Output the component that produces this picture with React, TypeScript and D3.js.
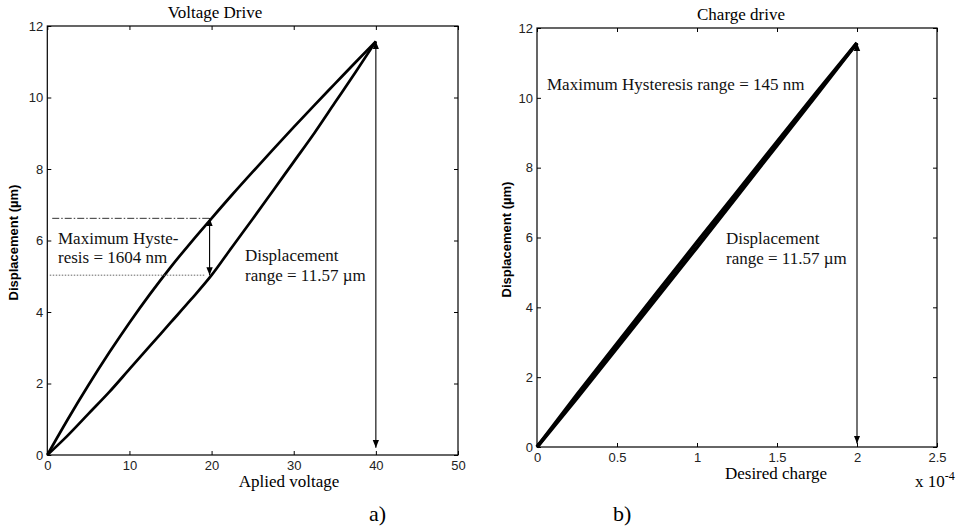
import { useEffect, useRef } from "react";
import * as d3 from "d3";

// voltage drive loop (V, um)
const voltage = [0, 2.5, 5, 7.5, 10, 12.5, 15, 17.5, 20, 22.5, 25, 27.5, 30, 32.5, 35, 37.5, 40];
const upperBranch = [0, 1.0, 1.95, 2.85, 3.7, 4.5, 5.25, 5.95, 6.62, 7.28, 7.92, 8.55, 9.17, 9.78, 10.38, 10.98, 11.57];
const lowerBranch = [0, 0.55, 1.15, 1.75, 2.4, 3.05, 3.7, 4.35, 5.03, 5.82, 6.6, 7.4, 8.2, 9.0, 9.85, 10.7, 11.57];

// charge drive loop (x 1e-4 C, um)
const charge = [0, 0.25, 0.5, 0.75, 1.0, 1.25, 1.5, 1.75, 2.0];
const chargeUp = [0, 1.4, 2.84, 4.28, 5.72, 7.18, 8.64, 10.1, 11.57];
const chargeDown = [0, 1.5, 2.96, 4.42, 5.865, 7.3, 8.74, 10.17, 11.57];

const voltageTicks = [0, 10, 20, 30, 40, 50];
const chargeTicks = [0, 0.5, 1, 1.5, 2, 2.5];
const dispTicks = [0, 2, 4, 6, 8, 10, 12];

const hystV = 20;
const hystTop = 6.62;
const hystBottom = 5.03;
const rangeMax = 11.57;

const W = 962;
const H = 531;
const serif = "'Liberation Serif', 'Times New Roman', serif";
const sans = "'Liberation Sans', Arial, sans-serif";

function drawPanel(svg, opt) {
    const { x, y, xTicks, xFormat, title, titleX, xLabel, xLabelX, xLabelDy, yLabelX } = opt;
    const g = svg.append("g");
    const [x0, x1] = x.range();
    const [y0, y1] = y.range();

    // inward ticks on all four sides
    const bottom = g.append("g").attr("transform", `translate(0,${y0})`)
        .call(d3.axisBottom(x).tickValues(xTicks).tickFormat(xFormat).tickSizeInner(-4).tickSizeOuter(0).tickPadding(6));
    g.append("g").attr("transform", `translate(0,${y1})`)
        .call(d3.axisTop(x).tickValues(xTicks).tickFormat(() => "").tickSizeInner(-4).tickSizeOuter(0));
    const left = g.append("g").attr("transform", `translate(${x0},0)`)
        .call(d3.axisLeft(y).tickValues(dispTicks).tickFormat(d3.format("d")).tickSizeInner(-4).tickSizeOuter(0).tickPadding(4));
    g.append("g").attr("transform", `translate(${x1},0)`)
        .call(d3.axisRight(y).tickValues(dispTicks).tickFormat(() => "").tickSizeInner(-4).tickSizeOuter(0));

    g.selectAll(".domain").remove();
    g.selectAll(".tick line").attr("stroke", "#000");
    [bottom, left].forEach(a => a.selectAll("text")
        .attr("font-family", sans).attr("font-size", 13).attr("fill", "#222"));

    g.append("rect")
        .attr("x", x0).attr("y", y1)
        .attr("width", x1 - x0).attr("height", y0 - y1)
        .attr("fill", "none").attr("stroke", "#000").attr("stroke-width", 1.2);

    g.append("text").attr("x", titleX).attr("y", y1 - 8)
        .attr("text-anchor", "middle").attr("font-family", serif).attr("font-size", 17)
        .text(title);
    g.append("text").attr("x", xLabelX).attr("y", y0 + xLabelDy)
        .attr("text-anchor", "middle").attr("font-family", serif).attr("font-size", 17)
        .text(xLabel);
    g.append("text")
        .attr("transform", `translate(${yLabelX},${(y0 + y1) / 2 + 2}) rotate(-90)`)
        .attr("text-anchor", "middle").attr("font-family", sans).attr("font-weight", "bold")
        .attr("font-size", 13)
        .text("Displacement (\u00b5m)");
    return g;
}

function arrow(g, x, ya, yb) {
    g.append("line")
        .attr("x1", x).attr("x2", x).attr("y1", ya).attr("y2", yb)
        .attr("stroke", "#000").attr("stroke-width", 1.1)
        .attr("marker-start", "url(#head)").attr("marker-end", "url(#head)");
}

function lines(g, texts, x, y, size) {
    texts.forEach((t, i) => {
        g.append("text").attr("x", x).attr("y", y + i * 19.5)
            .attr("font-family", serif).attr("font-size", size).attr("fill", "#111")
            .text(t);
    });
}

const App = () => {
    const ref = useRef(null);

    useEffect(() => {
        const svg = d3.select(ref.current);
        svg.selectAll("*").remove();

        svg.append("defs").append("marker")
            .attr("id", "head")
            .attr("viewBox", "0 0 10 10")
            .attr("refX", 10).attr("refY", 5)
            .attr("markerWidth", 8).attr("markerHeight", 8)
            .attr("markerUnits", "userSpaceOnUse")
            .attr("orient", "auto-start-reverse")
            .append("path").attr("d", "M0,1 L10,5 L0,9 Z").attr("fill", "#000");

        // ---- a) voltage drive
        const xa = d3.scaleLinear([0, 50], [47.3, 458]);
        const ya = d3.scaleLinear([0, 12], [455, 26]);
        const ga = drawPanel(svg, {
            x: xa, y: ya, xTicks: voltageTicks, xFormat: d3.format("d"),
            title: "Voltage Drive", titleX: 215, xLabel: "Aplied voltage", xLabelX: 289, xLabelDy: 31.5,
            yLabelX: 18
        });

        const lineA = d3.line().curve(d3.curveMonotoneX).x(d => xa(d[0])).y(d => ya(d[1]));
        [upperBranch, lowerBranch].forEach(b => {
            ga.append("path")
                .attr("d", lineA(voltage.map((v, i) => [v, b[i]])))
                .attr("fill", "none").attr("stroke", "#000").attr("stroke-width", 2.7)
                .attr("stroke-linejoin", "round");
        });

        ga.append("line")
            .attr("x1", xa(0.6)).attr("x2", xa(hystV) - 2)
            .attr("y1", ya(hystTop)).attr("y2", ya(hystTop))
            .attr("stroke", "#333").attr("stroke-width", 1).attr("stroke-dasharray", "7,2,1.5,2");
        ga.append("line")
            .attr("x1", xa(0.3)).attr("x2", xa(hystV) - 6)
            .attr("y1", ya(hystBottom)).attr("y2", ya(hystBottom))
            .attr("stroke", "#666").attr("stroke-width", 1).attr("stroke-dasharray", "1.5,1.5");
        arrow(ga, xa(hystV) - 2, ya(hystTop), ya(hystBottom));
        arrow(ga, xa(40), ya(rangeMax), ya(0.2));

        lines(ga, ["Maximum Hyste-", "resis = 1604 nm"], 58, 243.5, 17);
        lines(ga, ["Displacement", "range = 11.57 \u00b5m"], 245, 261, 17);

        // ---- b) charge drive
        const xb = d3.scaleLinear([0, 2.5], [537, 937]);
        const yb = d3.scaleLinear([0, 12], [447, 28]);
        const gb = drawPanel(svg, {
            x: xb, y: yb, xTicks: chargeTicks, xFormat: d => d3.format("")(d),
            title: "Charge drive", titleX: 741, xLabel: "Desired charge", xLabelX: 776, xLabelDy: 32,
            yLabelX: 511
        });

        const lineB = d3.line().x(d => xb(d[0])).y(d => yb(d[1]));
        [chargeUp, chargeDown].forEach(b => {
            gb.append("path")
                .attr("d", lineB(charge.map((q, i) => [q, b[i]])))
                .attr("fill", "none").attr("stroke", "#000").attr("stroke-width", 3.6)
                .attr("stroke-linejoin", "round");
        });
        arrow(gb, xb(2), yb(rangeMax), yb(0.1));

        lines(gb, ["Maximum Hysteresis range = 145 nm"], 547, 90, 17);
        lines(gb, ["Displacement", "range = 11.57 \u00b5m"], 726, 244, 17);

        const exp = gb.append("text").attr("x", 915).attr("y", 487)
            .attr("font-family", serif).attr("font-size", 17);
        exp.append("tspan").text("x 10");
        exp.append("tspan").attr("dy", -7).attr("font-size", 12).text("-4");

        svg.append("text").attr("x", 369).attr("y", 521).attr("font-family", serif)
            .attr("font-size", 22).text("a)");
        svg.append("text").attr("x", 613).attr("y", 521).attr("font-family", serif)
            .attr("font-size", 22).text("b)");
    }, []);

    return (
        <svg ref={ref} width={W} height={H}
            style={{ position: "absolute", left: 0, top: 0, background: "#fff" }} />
    );
};

export default App;
